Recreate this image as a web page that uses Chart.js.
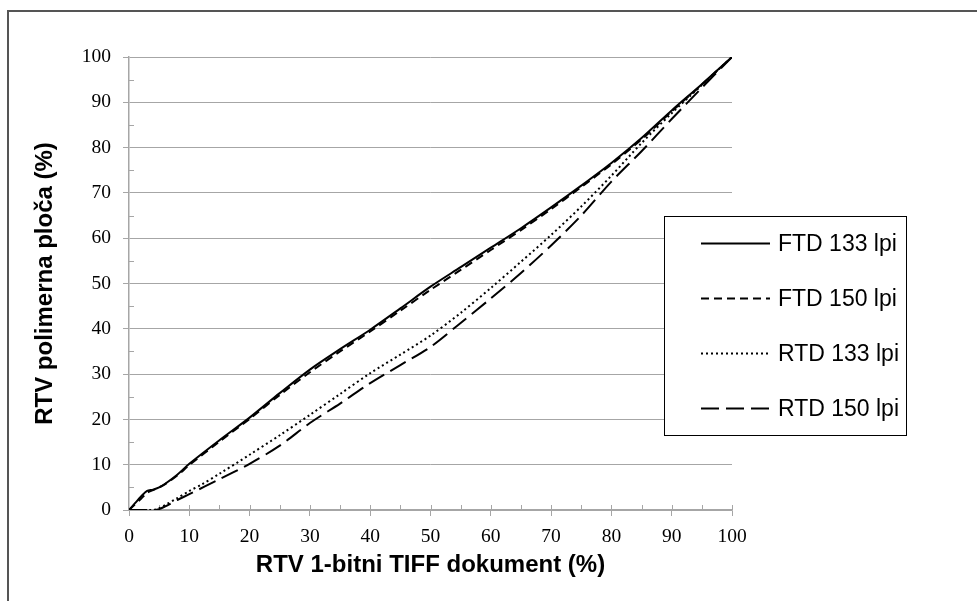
<!DOCTYPE html>
<html>
<head>
<meta charset="utf-8">
<script src="https://cdn.jsdelivr.net/npm/chart.js@4.4.1/dist/chart.umd.min.js"></script>
<style>
  html, body { margin:0; padding:0; background:#fff; }
  #wrap { position:relative; width:977px; height:601px; overflow:hidden; }
  #frame { position:absolute; left:7px; top:10px; width:990px; height:620px;
           border-top:2px solid #555; border-left:2px solid #555; pointer-events:none; }
</style>
</head>
<body>
<div id="wrap">
  <canvas id="c"></canvas>
  <div id="frame"></div>
</div>
<script>
// ---------- Datos ----------
const X_FTD133 = [0, 1, 2, 3, 4, 5, 6, 8, 10, 15, 20, 25, 30, 35, 40, 45, 50, 55, 60, 65, 70, 75, 80, 85, 90, 95, 100];
const Y_FTD133 = [0, 1.5, 3, 4.2, 4.5, 5, 5.8, 7.8, 10.2, 15.4, 20.4, 25.8, 31, 35.5, 39.8, 44.5, 49.3, 53.6, 57.9, 62.2, 66.8, 71.6, 76.6, 82.1, 88.2, 94, 100];

const X_FTD150 = [0, 2, 3, 4, 5, 6, 8, 10, 15, 20, 25, 30, 35, 40, 45, 50, 55, 60, 65, 70, 75, 80, 85, 90, 95, 100];
const Y_FTD150 = [0, 2.5, 3.8, 4.4, 5, 5.7, 7.6, 9.9, 15.1, 20.1, 25.4, 30.4, 35, 39.4, 44, 48.6, 53, 57.4, 61.8, 66.4, 71.3, 76.3, 81.8, 88, 93.9, 100];

const X_RTD133 = [0, 4, 5, 6, 8, 10, 12, 15, 20, 25, 30, 35, 40, 45, 50, 55, 60, 65, 70, 75, 80, 85, 90, 95, 100];
const Y_RTD133 = [0, 0, 0.4, 1.1, 2.6, 4.2, 5.6, 8, 12.2, 16.5, 21, 25.6, 30.2, 34.3, 38.5, 43.5, 49, 54.8, 60.7, 67, 73.8, 81, 87.6, 93.8, 100];

const X_RTD150 = [0, 4, 5, 6, 8, 10, 15, 20, 25, 30, 35, 40, 45, 50, 55, 60, 65, 70, 75, 80, 85, 90, 95, 100];
const Y_RTD150 = [0, 0, 0.2, 0.8, 2.2, 3.5, 6.8, 10.2, 14.2, 19.2, 23.5, 28, 32, 36, 41.3, 46.7, 52.3, 58.4, 65, 72.5, 79.2, 86.3, 93.2, 100];

const SERIES = ['FTD 133 lpi', 'FTD 150 lpi', 'RTD 133 lpi', 'RTD 150 lpi'];
const X_TITLE = 'RTV 1-bitni TIFF dokument (%)';
const Y_TITLE = 'RTV polimerna ploča (%)';

const pts = (xs, ys) => xs.map((x, i) => ({x, y: ys[i]}));
const GRIS = '#a6a6a6';
const SERIF = '"Liberation Serif", "Times New Roman", serif';
const SANS = '"Liberation Sans", Arial, sans-serif';

// ---------- Marcas menores (hacia dentro) ----------
const marcasMenores = {
  id: 'marcasMenores',
  beforeDatasetsDraw(chart){
    const {ctx, chartArea: a, scales: {x, y}} = chart;
    ctx.save();
    ctx.strokeStyle = GRIS; ctx.lineWidth = 1;
    ctx.beginPath();
    for(let v = 5; v <= 100; v += 5){
      const px = Math.round(x.getPixelForValue(v)) + 0.5;
      ctx.moveTo(px, a.bottom); ctx.lineTo(px, a.bottom - 5);
      if(v % 10){
        const py = Math.round(y.getPixelForValue(v)) + 0.5;
        ctx.moveTo(a.left, py); ctx.lineTo(a.left + 5, py);
      }
    }
    ctx.stroke();
    ctx.restore();
  }
};

// ---------- Leyenda en recuadro ----------
const leyenda = {
  id: 'leyenda',
  afterDraw(chart, args, o){
    const ctx = chart.ctx;
    ctx.save();
    ctx.fillStyle = '#fff';
    ctx.fillRect(o.x, o.y, o.w, o.h);
    ctx.strokeStyle = '#000'; ctx.lineWidth = 1;
    ctx.strokeRect(o.x + 0.5, o.y + 0.5, o.w, o.h);
    chart.data.datasets.forEach((ds, i) => {
      const yy = Math.round(o.y + o.first + i * o.step) + 0.5;
      ctx.strokeStyle = ds.borderColor; ctx.lineWidth = ds.borderWidth;
      ctx.setLineDash(ds.borderDash || []);
      ctx.beginPath(); ctx.moveTo(o.x + o.lineX0, yy); ctx.lineTo(o.x + o.lineX1, yy); ctx.stroke();
      ctx.setLineDash([]);
      ctx.fillStyle = '#000';
      ctx.font = o.font;
      ctx.textBaseline = 'middle'; ctx.textAlign = 'left';
      ctx.fillText(ds.label, o.x + o.textX, yy + 1);
    });
    ctx.restore();
  }
};

const linea = (label, data, dash) => ({
  label, data, borderColor:'#000', borderWidth:2, borderDash:dash,
  pointRadius:0, tension:0.3, fill:false, borderCapStyle:'butt'
});

new Chart(document.getElementById('c'), {
  type: 'line',
  data: {
    datasets: [
      linea(SERIES[0], pts(X_FTD133, Y_FTD133), []),
      linea(SERIES[1], pts(X_FTD150, Y_FTD150), [8, 5]),
      linea(SERIES[2], pts(X_RTD133, Y_RTD133), [2, 3]),
      linea(SERIES[3], pts(X_RTD150, Y_RTD150), [18, 7]),
    ]
  },
  options: {
    responsive: true, maintainAspectRatio: false, animation: false,
    layout: { padding: { top: 57, right: 245, bottom: 0, left: 0 } },
    plugins: {
      legend: { display: false },
      tooltip: { enabled: false },
      leyenda: { x: 664, y: 216, w: 242, h: 219, first: 27, step: 55, lineX0: 37, lineX1: 106, textX: 114,
                 font: '23px ' + SANS }
    },
    scales: {
      x: {
        type: 'linear', min: 0, max: 100,
        afterFit: s => { s.height = 91; },
        ticks: { stepSize: 10, color: '#000', padding: 9, font: { family: SERIF, size: 19.5 } },
        grid: { drawOnChartArea: false, tickLength: 6, tickColor: GRIS },
        border: { color: GRIS, width: 1.5 },
        title: { display: true, text: X_TITLE, color: '#000', padding: { top: 0, bottom: 21 },
                 font: { family: SANS, size: 24, weight: 'bold' } }
      },
      y: {
        type: 'linear', min: 0, max: 100,
        afterFit: s => { s.width = 129; },
        ticks: { stepSize: 10, color: '#000', padding: 12, font: { family: SERIF, size: 19.5 } },
        grid: { color: GRIS, lineWidth: 1, tickLength: 6, tickColor: GRIS },
        border: { color: GRIS, width: 1.5 },
        title: { display: true, text: Y_TITLE, color: '#000', padding: { top: 31, bottom: 0 },
                 font: { family: SANS, size: 24, weight: 'bold' } }
      }
    }
  },
  plugins: [marcasMenores, leyenda]
});
</script>
</body>
</html>
